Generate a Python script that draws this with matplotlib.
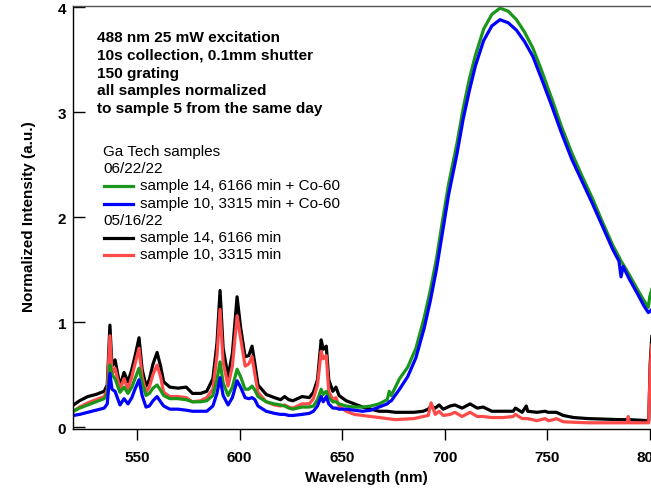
import numpy as np
import matplotlib.pyplot as plt
from matplotlib.lines import Line2D

plt.rcParams['font.family'] = ['Liberation Sans', 'DejaVu Sans']

# ---------------- data ----------------
# 520-660 nm region, shared grid for all four spectra
wl_low = [519, 522, 526, 530, 534, 535.5, 536.8, 537.8, 539.3, 541.7, 543.7, 545.6,
          547.5, 549, 551, 552.5, 554.4, 556, 557.8, 559.8, 561.5, 563, 566, 570,
          574, 577, 581, 584, 587, 589, 590.5, 592, 594.4, 596.5, 598.8, 600.5,
          602.7, 604.5, 606.1, 607.5, 609, 613, 617, 620, 622, 624, 626, 630.5,
          634, 636, 638, 639.8, 640.8, 642.3, 643.5, 645.5, 647, 648.5, 652, 656, 660]

s14_low = [0.21, 0.25, 0.29, 0.31, 0.34, 0.40, 0.97, 0.58, 0.64, 0.39, 0.52, 0.43,
           0.55, 0.67, 0.85, 0.55, 0.39, 0.45, 0.60, 0.71, 0.58, 0.43, 0.38, 0.37,
           0.38, 0.32, 0.32, 0.34, 0.46, 0.80, 1.30, 0.75, 0.48, 0.70, 1.24, 0.95,
           0.67, 0.68, 0.77, 0.60, 0.40, 0.31, 0.28, 0.26, 0.29, 0.26, 0.25, 0.29,
           0.28, 0.33, 0.45, 0.83, 0.74, 0.77, 0.45, 0.34, 0.38, 0.30, 0.25, 0.22, 0.19]

s10_low = [0.15, 0.19, 0.23, 0.26, 0.29, 0.35, 0.87, 0.50, 0.56, 0.36, 0.46, 0.36,
           0.48, 0.60, 0.75, 0.48, 0.33, 0.38, 0.50, 0.59, 0.48, 0.33, 0.29, 0.29,
           0.28, 0.24, 0.25, 0.28, 0.36, 0.68, 1.12, 0.62, 0.39, 0.58, 1.06, 0.85,
           0.58, 0.60, 0.67, 0.50, 0.33, 0.24, 0.21, 0.20, 0.21, 0.19, 0.18, 0.22,
           0.22, 0.27, 0.40, 0.72, 0.65, 0.68, 0.34, 0.26, 0.28, 0.20, 0.15, 0.12, 0.11]

s14co_low = [0.15, 0.18, 0.21, 0.24, 0.27, 0.32, 0.59, 0.50, 0.46, 0.33, 0.38, 0.32,
             0.38, 0.46, 0.56, 0.42, 0.30, 0.32, 0.37, 0.40, 0.35, 0.30, 0.27, 0.27,
             0.26, 0.24, 0.24, 0.25, 0.30, 0.45, 0.62, 0.42, 0.30, 0.38, 0.55, 0.48,
             0.36, 0.36, 0.39, 0.35, 0.29, 0.24, 0.22, 0.21, 0.20, 0.18, 0.17, 0.19,
             0.19, 0.20, 0.26, 0.36, 0.31, 0.34, 0.28, 0.24, 0.24, 0.22, 0.20, 0.19, 0.19]

s10co_low = [0.11, 0.12, 0.14, 0.16, 0.18, 0.22, 0.51, 0.36, 0.34, 0.21, 0.27, 0.22,
             0.28, 0.36, 0.45, 0.30, 0.19, 0.20, 0.25, 0.29, 0.24, 0.20, 0.17, 0.17,
             0.16, 0.15, 0.15, 0.15, 0.20, 0.32, 0.47, 0.30, 0.21, 0.28, 0.44, 0.38,
             0.28, 0.27, 0.28, 0.26, 0.20, 0.15, 0.13, 0.12, 0.12, 0.11, 0.11, 0.12,
             0.13, 0.15, 0.20, 0.29, 0.24, 0.29, 0.22, 0.18, 0.18, 0.17, 0.17, 0.16, 0.15]

# broad emission band of the irradiated samples (660-801 nm)
wl_band = [664, 668, 672, 673, 674, 678, 682, 686, 690, 693, 696, 699, 702, 706,
           709, 712, 715, 719, 723, 727, 731, 735, 739, 743, 747, 752, 757, 762,
           767, 772, 777, 782, 785, 786, 787, 790, 794, 797, 799.3, 800, 801]

s14co_band = [0.20, 0.22, 0.26, 0.34, 0.30, 0.46, 0.57, 0.75, 1.04, 1.30, 1.60, 1.97,
              2.32, 2.70, 3.03, 3.31, 3.54, 3.79, 3.93, 3.99, 3.96, 3.88, 3.76, 3.61,
              3.41, 3.14, 2.86, 2.61, 2.39, 2.18, 1.95, 1.73, 1.62, 1.58, 1.55, 1.45,
              1.31, 1.21, 1.14, 1.24, 1.31]

s10co_band = [0.16, 0.19, 0.22, 0.24, 0.25, 0.36, 0.48, 0.66, 0.94, 1.20, 1.50, 1.86,
              2.22, 2.60, 2.93, 3.20, 3.44, 3.68, 3.82, 3.88, 3.85, 3.78, 3.67, 3.53,
              3.33, 3.07, 2.80, 2.55, 2.34, 2.13, 1.91, 1.69, 1.58, 1.43, 1.53, 1.41,
              1.27, 1.16, 1.09, 1.10, 1.12]

# tail of the non-irradiated samples (660-801 nm)
wl_tail = [664, 668, 672, 676, 680, 685, 689.5, 692, 693.4, 695.4, 697.3, 699.3,
           702.7, 705, 708.5, 712.4, 715.9, 718.8, 723, 728.5, 733.4, 734.5, 737.8,
           739.8, 740.5, 745, 749, 750.5, 753, 754.5, 757.8, 763, 770, 778, 785.6,
           789, 789.5, 790, 795, 799.5, 800.2, 801]

s14_tail = [0.17, 0.15, 0.15, 0.14, 0.14, 0.14, 0.15, 0.17, 0.20, 0.18, 0.21, 0.17,
            0.20, 0.21, 0.18, 0.22, 0.18, 0.19, 0.15, 0.15, 0.15, 0.18, 0.14, 0.20,
            0.15, 0.14, 0.15, 0.14, 0.14, 0.14, 0.11, 0.09, 0.08, 0.075, 0.07, 0.07,
            0.07, 0.07, 0.065, 0.06, 0.60, 0.86]

s10_tail = [0.10, 0.09, 0.08, 0.07, 0.075, 0.08, 0.10, 0.11, 0.23, 0.12, 0.15, 0.11,
            0.12, 0.14, 0.10, 0.14, 0.10, 0.10, 0.09, 0.09, 0.10, 0.12, 0.08, 0.08,
            0.08, 0.06, 0.08, 0.06, 0.07, 0.08, 0.05, 0.045, 0.04, 0.04, 0.04, 0.04,
            0.10, 0.04, 0.04, 0.04, 0.55, 0.78]

green = '#1a961a'
blue = '#0000ff'
black = '#000000'
red = '#ff4a4a'

info_lines = ['488 nm 25 mW excitation',
              '10s collection, 0.1mm shutter',
              '150 grating',
              'all samples normalized',
              'to sample 5 from the same day']

legend_rows = [('Ga Tech samples', None),
               ('06/22/22', None),
               ('sample 14, 6166 min + Co-60', green),
               ('sample 10, 3315 min + Co-60', blue),
               ('05/16/22', None),
               ('sample 14, 6166 min', black),
               ('sample 10, 3315 min', red)]

# ---------------- figure ----------------
W, H = 651, 489
fig = plt.figure(figsize=(W / 100, H / 100), dpi=100)
ax_l, ax_b, ax_w, ax_h = 73, 59, 587, 423   # pixel geometry of the axes box
ax = fig.add_axes([ax_l / W, ax_b / H, ax_w / W, ax_h / H])

lw = 2.3
ax.plot(wl_low + wl_tail, s14_low + s14_tail, color=black, lw=lw)
ax.plot(wl_low + wl_tail, s10_low + s10_tail, color=red, lw=lw)
ax.plot(wl_low + wl_band, s14co_low + s14co_band, color=green, lw=lw)
ax.plot(wl_low + wl_band, s10co_low + s10co_band, color=blue, lw=lw)

ax.set_xlim(518.8, 805)
ax.set_ylim(-0.019, 4.01)
ax.set_xticks([550, 600, 650, 700, 750, 800])
ax.set_yticks([0, 1, 2, 3, 4])

ax.spines['right'].set_visible(False)
ax.spines['top'].set_color('#555555')
ax.spines['top'].set_linewidth(1.0)
for s in ('left', 'bottom'):
    ax.spines[s].set_linewidth(1.0)

ax.tick_params(axis='y', direction='in', length=8.6, width=1.0, pad=5, labelsize=11)
ax.tick_params(axis='x', direction='out', length=8, width=1.0, pad=7, labelsize=11)
for lab in ax.get_xticklabels() + ax.get_yticklabels():
    lab.set_fontweight('bold')

ax.set_xlabel('Wavelength (nm)', fontsize=11, fontweight='bold')
ax.set_ylabel('Normalized Intensity (a.u.)', fontsize=11, fontweight='bold')
ax.xaxis.set_label_coords(0.5, (430 - 471) / ax_h)
ax.yaxis.set_label_coords((36 - ax_l) / ax_w, (430 - 217) / ax_h)

def to_ax(px, py):
    return (px - ax_l) / ax_w, (430 - py) / ax_h

# info text block
for i, line in enumerate(info_lines):
    x, y = to_ax(97, 38 + i * 17.8)
    ax.text(x, y, line, transform=ax.transAxes, fontsize=11.1, fontweight='bold',
            va='center', ha='left')

# hand-made legend
for i, (label, col) in enumerate(legend_rows):
    py = 152 + i * 17.2
    if col is None:
        x, y = to_ax(103, py)
        ax.text(x, y, label, transform=ax.transAxes, fontsize=11, va='center')
    else:
        x0, y = to_ax(104, py + 1)
        x1, _ = to_ax(133, py + 1)
        ax.add_line(Line2D([x0, x1], [y, y], transform=ax.transAxes, color=col, lw=lw))
        x, y = to_ax(140, py)
        ax.text(x, y, label, transform=ax.transAxes, fontsize=11, va='center')

fig.savefig('out.png', dpi=100)
